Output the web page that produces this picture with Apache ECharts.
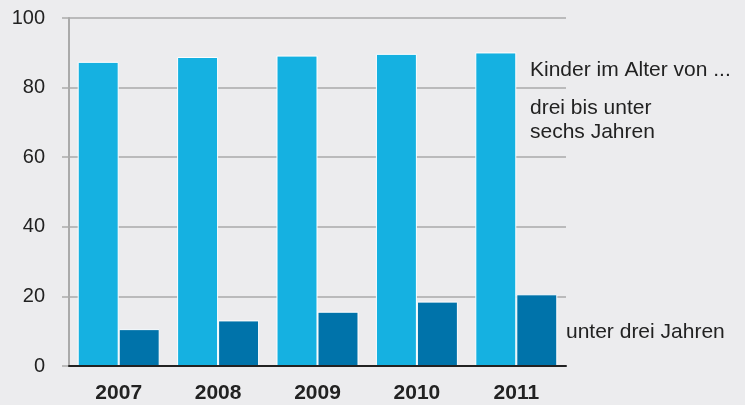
<!DOCTYPE html>
<html>
<head>
<meta charset="utf-8">
<script src="https://cdn.jsdelivr.net/npm/echarts@6/dist/echarts.min.js"></script>
<style>
html,body{margin:0;padding:0;background:#ececee;}
#c{width:745px;height:405px;}
</style>
</head>
<body>
<div id="c"></div>
<script>
const years = ['2007', '2008', '2009', '2010', '2011'];
const dreiBisSechs = [87.4, 88.8, 89.2, 89.7, 90.1];
const unterDrei = [10.6, 13.1, 15.6, 18.5, 20.6];
const yTicks = { min: 0, max: 100, interval: 20 };

const chart = echarts.init(document.getElementById('c'));
const font = '"Liberation Sans", Arial, Helvetica, sans-serif';
chart.setOption({
  backgroundColor: '#ececee',
  animation: false,
  grid: { left: 69, right: 179, top: 18, bottom: 39 },
  xAxis: {
    type: 'category',
    data: years,
    axisLine: { show: true, lineStyle: { color: '#222', width: 2 } },
    axisTick: { show: false },
    axisLabel: { fontFamily: font, fontSize: 21, fontWeight: 'bold', color: '#222', margin: 17 },
    z: 5
  },
  yAxis: {
    type: 'value',
    min: yTicks.min, max: yTicks.max, interval: yTicks.interval,
    axisLine: { show: true, lineStyle: { color: '#aaaaaa', width: 2 } },
    axisTick: { show: true, length: 7, lineStyle: { color: '#aaaaaa', width: 1.5 } },
    axisLabel: { fontFamily: font, fontSize: 20, color: '#222', margin: 24 },
    splitLine: { show: true, lineStyle: { color: '#aaaaaa', width: 1.5 } }
  },
  series: [
    {
      name: 'drei bis unter sechs Jahren',
      type: 'bar',
      data: dreiBisSechs,
      barWidth: 41,
      barGap: '0%',
      itemStyle: { color: '#15b1e1', borderColor: '#ffffff', borderWidth: 1 },
      z: 3
    },
    {
      name: 'unter drei Jahren',
      type: 'bar',
      data: unterDrei,
      barWidth: 41,
      barGap: '0%',
      itemStyle: { color: '#0073aa', borderColor: '#ffffff', borderWidth: 1 },
      z: 3
    }
  ],
  graphic: [
    { type: 'text', x: 530, y: 70, style: { text: 'Kinder im Alter von ...', font: '21px ' + font, fill: '#222', verticalAlign: 'middle' } },
    { type: 'text', x: 530, y: 120, style: { text: 'drei bis unter\nsechs Jahren', font: '21px ' + font, fill: '#222', lineHeight: 24, verticalAlign: 'middle' } },
    { type: 'text', x: 566, y: 332, style: { text: 'unter drei Jahren', font: '21px ' + font, fill: '#222', verticalAlign: 'middle' } }
  ]
});
</script>
</body>
</html>
